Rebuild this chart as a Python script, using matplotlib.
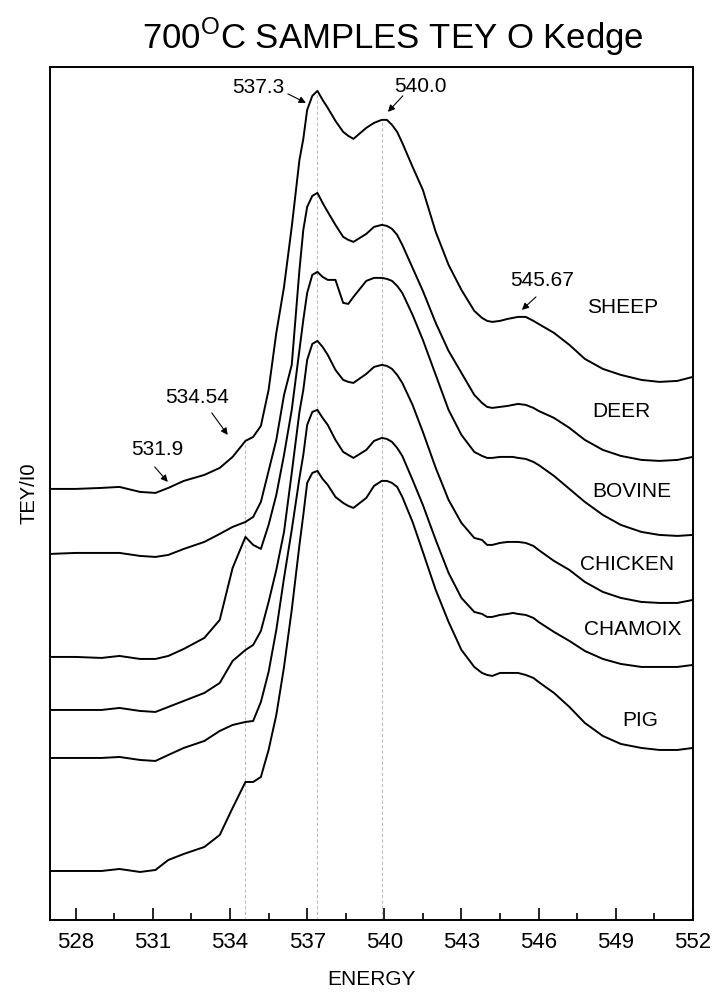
import matplotlib
matplotlib.use("Agg")
import matplotlib.pyplot as plt
from matplotlib import font_manager
from matplotlib.ticker import MultipleLocator

# Arial-like font
names = {f.name for f in font_manager.fontManager.ttflist}
fam = 'Liberation Sans Narrow' if 'Liberation Sans Narrow' in names else 'Liberation Sans'
plt.rcParams['font.family'] = [fam, 'DejaVu Sans']
plt.rcParams['mathtext.fontset'] = 'custom'
plt.rcParams['mathtext.rm'] = fam

# energy grid (eV)
energy = [527.0, 528.0, 529.0, 529.7, 530.5, 531.1, 531.6, 532.2, 533.0, 533.6,
          534.1, 534.6, 534.9, 535.2, 535.5, 535.8, 536.1, 536.4, 536.7, 536.85,
          537.0, 537.2, 537.4, 537.6, 537.8, 538.1, 538.4, 538.6, 538.8, 539.3,
          539.6, 539.9, 540.1, 540.3, 540.5, 540.7, 541.1, 541.5, 542.0, 542.5,
          543.0, 543.5, 543.8, 544.0, 544.2, 544.5, 544.8, 545.0, 545.2, 545.5,
          545.8, 546.0, 546.6, 547.2, 547.8, 548.5, 549.2, 550.0, 550.7, 551.4,
          552.0]

# TEY/I0 (stacked, arbitrary units)
sheep = [4.31, 4.31, 4.32, 4.33, 4.28, 4.27, 4.32, 4.39, 4.45, 4.52,
         4.63, 4.79, 4.83, 4.94, 5.30, 5.87, 6.33, 6.93, 7.60, 7.81,
         8.10, 8.24, 8.29, 8.20, 8.12, 7.99, 7.88, 7.84, 7.81, 7.92,
         7.97, 8.00, 8.00, 7.95, 7.88, 7.77, 7.53, 7.30, 6.88, 6.55,
         6.30, 6.09, 6.02, 5.99, 5.98, 5.99, 6.01, 6.02, 6.03, 6.03,
         5.99, 5.96, 5.87, 5.75, 5.61, 5.51, 5.45, 5.40, 5.38, 5.39,
         5.43]
deer = [3.66, 3.67, 3.67, 3.67, 3.64, 3.63, 3.65, 3.71, 3.78, 3.86,
        3.93, 3.98, 4.03, 4.18, 4.49, 4.80, 5.25, 5.55, 6.50, 6.90,
        7.13, 7.24, 7.27, 7.17, 7.08, 6.95, 6.83, 6.80, 6.78, 6.86,
        6.93, 6.95, 6.94, 6.91, 6.85, 6.75, 6.52, 6.29, 5.97, 5.69,
        5.47, 5.25, 5.17, 5.13, 5.12, 5.13, 5.14, 5.15, 5.16, 5.15,
        5.12, 5.09, 5.02, 4.92, 4.80, 4.70, 4.64, 4.60, 4.59, 4.60,
        4.63]
bovine = [2.63, 2.63, 2.62, 2.64, 2.61, 2.61, 2.64, 2.71, 2.82, 3.00,
          3.52, 3.83, 3.75, 3.71, 3.95, 4.25, 4.65, 5.10, 5.70, 6.00,
          6.27, 6.45, 6.48, 6.43, 6.40, 6.40, 6.17, 6.16, 6.23, 6.39,
          6.42, 6.42, 6.41, 6.39, 6.34, 6.27, 6.05, 5.80, 5.45, 5.10,
          4.85, 4.68, 4.64, 4.62, 4.62, 4.63, 4.63, 4.63, 4.62, 4.61,
          4.58, 4.55, 4.44, 4.31, 4.18, 4.05, 3.95, 3.88, 3.85, 3.84,
          3.85]
chicken = [2.10, 2.10, 2.10, 2.12, 2.09, 2.08, 2.13, 2.19, 2.27, 2.37,
           2.59, 2.70, 2.75, 2.89, 3.18, 3.50, 3.88, 4.47, 5.08, 5.30,
           5.60, 5.76, 5.79, 5.73, 5.65, 5.50, 5.40, 5.38, 5.37, 5.46,
           5.53, 5.55, 5.54, 5.51, 5.45, 5.37, 5.15, 4.88, 4.52, 4.20,
           3.97, 3.82, 3.80, 3.75, 3.75, 3.77, 3.78, 3.78, 3.78, 3.77,
           3.74, 3.70, 3.59, 3.50, 3.38, 3.28, 3.22, 3.18, 3.17, 3.17,
           3.20]
chamoix = [1.62, 1.62, 1.62, 1.63, 1.60, 1.59, 1.65, 1.72, 1.79, 1.89,
           1.95, 1.98, 1.99, 2.18, 2.48, 2.90, 3.42, 3.90, 4.42, 4.65,
           4.95, 5.08, 5.10, 5.02, 4.95, 4.80, 4.68, 4.65, 4.62, 4.70,
           4.79, 4.82, 4.81, 4.78, 4.72, 4.64, 4.40, 4.15, 3.80, 3.47,
           3.22, 3.08, 3.06, 3.03, 3.03, 3.05, 3.06, 3.07, 3.06, 3.05,
           3.02, 2.98, 2.88, 2.79, 2.69, 2.61, 2.56, 2.53, 2.53, 2.53,
           2.55]
pig = [0.49, 0.49, 0.49, 0.51, 0.48, 0.50, 0.60, 0.66, 0.73, 0.85,
       1.12, 1.38, 1.38, 1.43, 1.70, 2.05, 2.53, 3.10, 3.75, 4.05,
       4.37, 4.47, 4.49, 4.41, 4.35, 4.23, 4.17, 4.14, 4.12, 4.22,
       4.34, 4.39, 4.39, 4.37, 4.33, 4.23, 3.98, 3.68, 3.30, 2.98,
       2.70, 2.53, 2.47, 2.45, 2.44, 2.47, 2.47, 2.47, 2.47, 2.45,
       2.42, 2.38, 2.27, 2.13, 1.97, 1.84, 1.76, 1.72, 1.70, 1.70,
       1.72]

samples = ['SHEEP', 'DEER', 'BOVINE', 'CHICKEN', 'CHAMOIX', 'PIG']
spectra = [sheep, deer, bovine, chicken, chamoix, pig]
label_pos = [(549.25, 6.12), (549.21, 5.08), (549.63, 4.28),
             (549.44, 3.55), (549.67, 2.90), (549.95, 1.99)]

# marked peak energies and where the guide lines stop
guide_e = [534.6, 537.4, 539.9]
guide_top = [4.82, 8.29, 8.00]

# peak annotations: text, text position, arrow tail, arrow head
notes = [('537.3', (535.08, 8.32), (536.25, 8.26), (536.95, 8.17)),
         ('540.0', (541.39, 8.33), (540.72, 8.24), (540.14, 8.08)),
         ('545.67', (546.13, 6.39), (545.90, 6.23), (545.35, 6.10)),
         ('534.54', (532.71, 5.22), (533.29, 5.07), (533.91, 4.85)),
         ('531.9', (531.19, 4.70), (531.07, 4.53), (531.58, 4.38))]

fig = plt.figure(figsize=(7.15, 9.92), dpi=100)
ax = fig.add_axes([0.070, 0.0726, 0.899, 0.860])

ax.vlines(guide_e, 0, guide_top, colors='#bdbdbd', linestyles=(0, (3, 2)), linewidth=0.8)

for s in spectra:
    ax.plot(energy, s, color='black', linewidth=1.4, solid_joinstyle='round')

for name, (x, y) in zip(samples, label_pos):
    ax.text(x, y, name, fontsize=15, ha='center', va='center')

for txt, tpos, tail, head in notes:
    ax.text(tpos[0], tpos[1], txt, fontsize=15, ha='center', va='center')
    ax.annotate('', xy=head, xytext=tail,
                arrowprops=dict(arrowstyle='-|>', color='black', lw=0.8,
                                mutation_scale=10, shrinkA=0, shrinkB=0))

ax.set_xlim(527, 552)
ax.set_ylim(0, 8.53)
ax.set_xticks(range(528, 553, 3))
ax.xaxis.set_minor_locator(MultipleLocator(1.5))
ax.tick_params(axis='x', which='major', direction='in', length=9, width=1.2,
               labelsize=16, pad=9)
ax.tick_params(axis='x', which='minor', direction='in', length=5, width=1.2)
ax.set_yticks([])
for sp in ax.spines.values():
    sp.set_linewidth(1.4)

ax.set_xlabel('ENERGY', fontsize=15, labelpad=12)
ax.set_ylabel('TEY/I0', fontsize=14.5, labelpad=8)
fig.text(0.55, 0.963, '700$^{\\mathrm{O}}$C SAMPLES TEY O Kedge', fontsize=25,
         ha='center', va='center')

fig.savefig('out.png', dpi=100)
